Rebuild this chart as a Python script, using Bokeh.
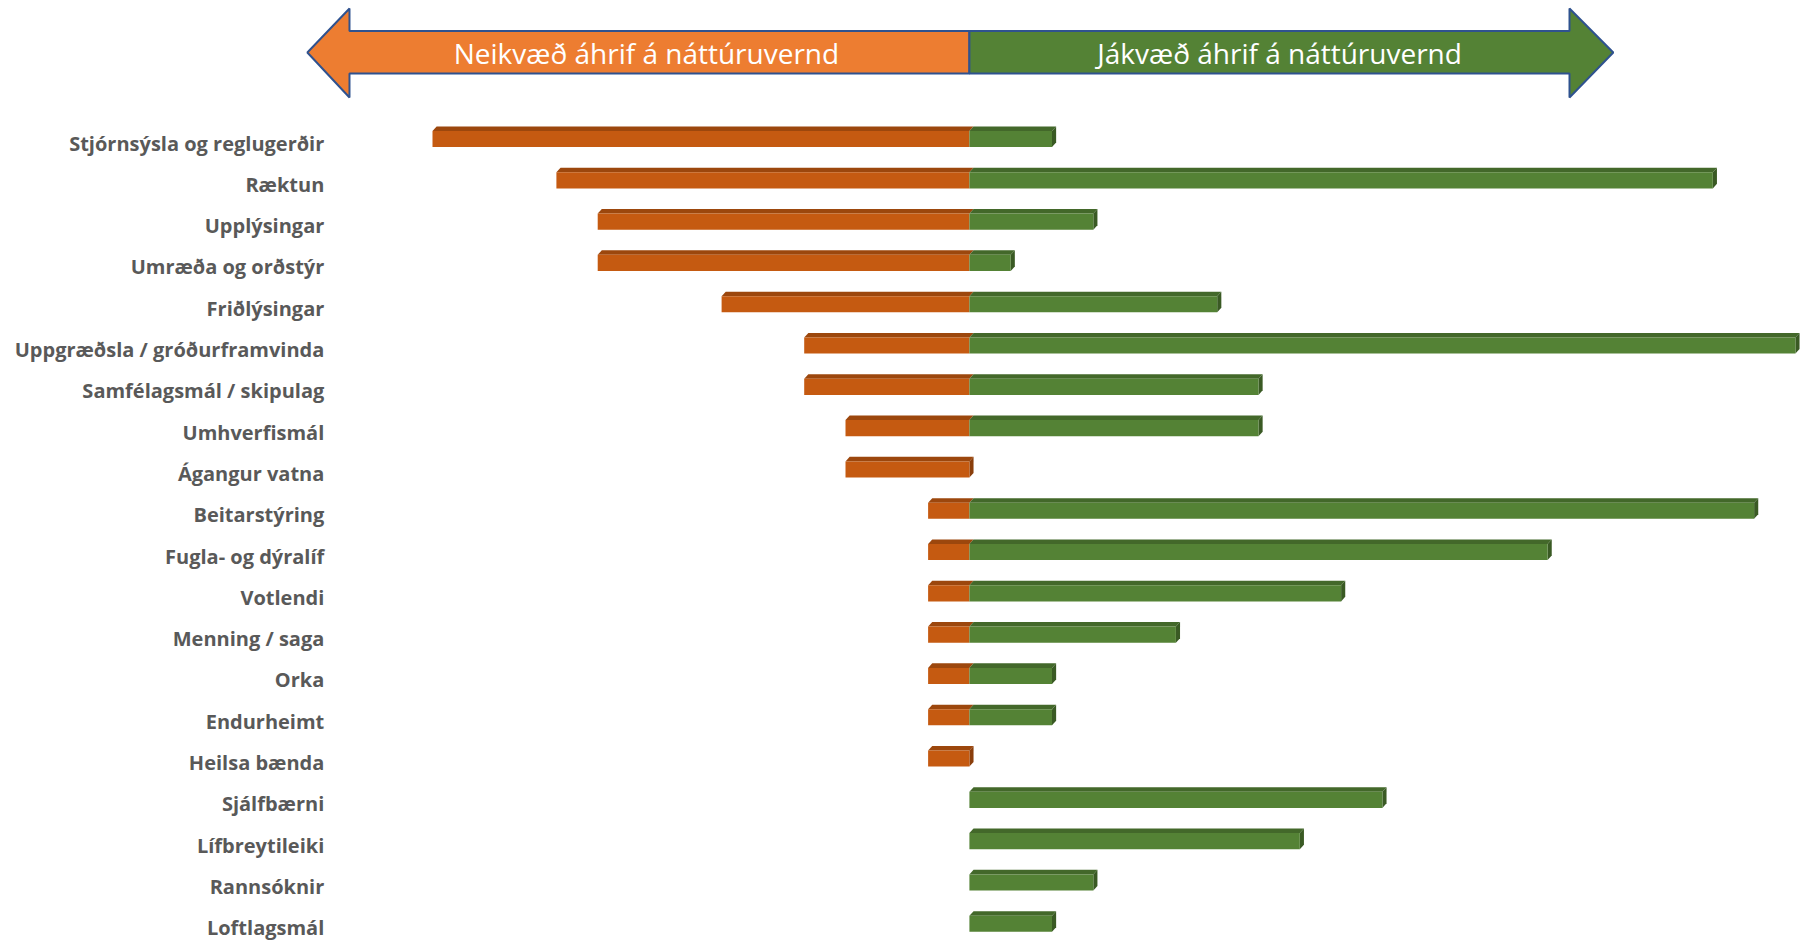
from bokeh.plotting import figure
from bokeh.models import Range1d
from bokeh.core.properties import value
from bokeh.embed import file_html
from bokeh.resources import INLINE

categories = ["Stjórnsýsla og reglugerðir", "Ræktun", "Upplýsingar", "Umræða og orðstýr",
              "Friðlýsingar", "Uppgræðsla / gróðurframvinda", "Samfélagsmál / skipulag",
              "Umhverfismál", "Ágangur vatna", "Beitarstýring", "Fugla- og dýralíf",
              "Votlendi", "Menning / saga", "Orka", "Endurheimt", "Heilsa bænda",
              "Sjálfbærni", "Lífbreytileiki", "Rannsóknir", "Loftlagsmál"]
negative = [13, 10, 9, 9, 6, 4, 4, 3, 3, 1, 1, 1, 1, 1, 1, 1, 0, 0, 0, 0]
positive = [2, 18, 3, 1, 6, 20, 7, 7, 0, 19, 14, 9, 5, 2, 2, 0, 10, 8, 3, 2]
arrow_labels = ["Neikvæð áhrif á náttúruvernd", "Jákvæð áhrif á náttúruvernd"]

ORANGE_FRONT = "#C55A11"
ORANGE_TOP = "#9C470D"
ORANGE_SIDE = "#8A3E0B"
GREEN_FRONT = "#548235"
GREEN_TOP = "#43682A"
GREEN_SIDE = "#3A5A24"

W, H = 1804, 941
p = figure(width=W, height=H, output_backend="svg", toolbar_location=None,
           x_axis_type=None, y_axis_type=None,
           x_range=Range1d(-23.46, 20.22), y_range=Range1d(19.43, -3.354),
           min_border=0, min_border_left=0, min_border_right=0,
           min_border_top=0, min_border_bottom=0)
p.outline_line_color = None
p.grid.visible = False
p.background_fill_color = "white"

rows = list(range(len(categories)))
half = 0.195
dx, dy = 0.1, 0.11

o_xs, o_ys, g_xs, g_ys, s_xs, s_ys, s_col = [], [], [], [], [], [], []
for r, n, ps in zip(rows, negative, positive):
    top = r - half
    bot = r + half
    if n > 0:
        o_xs.append([-n, -n + dx, dx, 0])
        o_ys.append([top, top - dy, top - dy, top])
    if ps > 0:
        g_xs.append([0, dx, ps + dx, ps])
        g_ys.append([top, top - dy, top - dy, top])
    end = ps if ps > 0 else 0
    s_xs.append([end, end + dx, end + dx, end])
    s_ys.append([top, top - dy, bot - dy, bot])
    s_col.append(GREEN_SIDE if ps > 0 else ORANGE_SIDE)

p.patches(o_xs, o_ys, fill_color=ORANGE_TOP, line_color=None)
p.patches(g_xs, g_ys, fill_color=GREEN_TOP, line_color=None)
p.patches(s_xs, s_ys, fill_color=s_col, line_color=None)

p.hbar(y=rows, left=[-n for n in negative], right=0, height=2 * half,
       fill_color=ORANGE_FRONT, line_color=None)
p.hbar(y=rows, left=0, right=positive, height=2 * half,
       fill_color=GREEN_FRONT, line_color=None)

# category labels
p.text(x=-15.62, y=rows, text=categories, text_align="right", text_baseline="middle",
       y_offset=4, text_font=value("Open Sans"), text_font_style="bold",
       text_font_size="20px", text_color="#595959")

# arrow banner
yc, st, sb, ht, hb = -2.094, -2.615, -1.586, -3.16, -1.005
left_tip, left_back, right_back, right_tip = -16.03, -15.01, 14.53, 15.59
p.patch([left_tip, left_back, left_back, 0, 0, left_back, left_back],
        [yc, ht, st, st, sb, sb, hb],
        fill_color="#ED7D31", line_color="#2F528F", line_width=2)
p.patch([0, right_back, right_back, right_tip, right_back, right_back, 0],
        [st, st, ht, yc, hb, sb, sb],
        fill_color="#548235", line_color="#2F528F", line_width=2)
p.text(x=[-7.82, 7.51], y=[yc, yc], text=arrow_labels, text_align="center",
       text_baseline="middle", text_font=value("Open Sans"),
       text_font_size="28px", text_color="white")

open("out.html", "w").write(file_html(p, INLINE))
